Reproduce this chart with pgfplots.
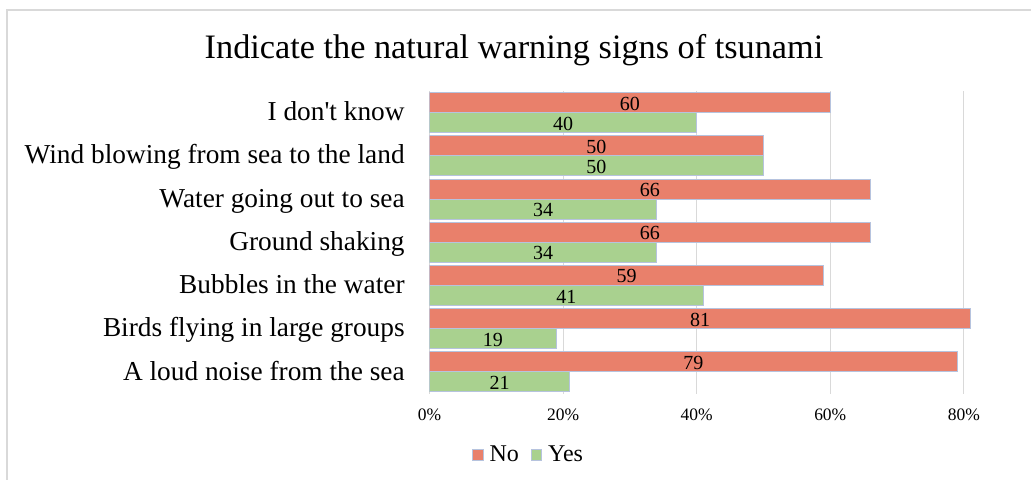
\documentclass[border=0pt]{standalone}
\usepackage{pgfplots}
\pgfplotsset{compat=1.18}
\usepackage{pgfplotstable}
\usepackage{fontspec}
\setmainfont{Liberation Serif}

\definecolor{noRed}{RGB}{233,128,107}
\definecolor{yesGreen}{RGB}{169,209,143}
\definecolor{barEdge}{RGB}{182,195,222}
\definecolor{gridGray}{RGB}{217,217,217}

% share of answers (%) per warning sign, bottom row first
\pgfplotstableread{
y no yes
0 79 21
1 81 19
2 59 41
3 66 34
4 66 34
5 50 50
6 60 40
}\signs

\begin{document}
\begin{tikzpicture}
\useasboundingbox (0,0) rectangle (773.25pt,359.25pt);
\clip (0,0) rectangle (773.25pt,359.25pt);
% chart area frame
\draw[gridGray, line width=1.1pt] (5.4pt,-30pt) -- (5.4pt,351.8pt) -- (820pt,351.8pt);
% title
\node[font=\fontsize{25.7}{30}\selectfont, anchor=base, inner sep=0pt]
  at (385.5pt,315.5pt) {Indicate the natural warning signs of tsunami};

\begin{axis}[
  at={(322.1pt,64.1pt)}, anchor=south west,
  scale only axis, width=501pt, height=226.9pt,
  xmin=0, xmax=100, ymin=-0.5, ymax=6.5,
  axis line style={draw=none},
  tick style={draw=none},
  xmajorgrids, major grid style={gridGray, line width=0.8pt},
  xtick={0,20,40,60,80},
  xticklabels={0\%,20\%,40\%,60\%,80\%},
  xticklabel style={font=\fontsize{13.1}{15}\selectfont, anchor=base, inner sep=0pt, yshift=-19.9pt},
  ytick={0,...,6},
  yticklabels={A loud noise from the sea, Birds flying in large groups, Bubbles in the water,
    Ground shaking, Water going out to sea, Wind blowing from sea to the land,
    I don\textquotesingle t know},
  yticklabel style={font=\fontsize{20.5}{24}\selectfont, anchor=base east, inner sep=0pt,
    xshift=-18.4pt, yshift=-6.1pt},
  legend style={at={(0.149,-0.2033)}, anchor=center, draw=none, fill=none,
    legend columns=2, font=\fontsize{18}{21}\selectfont,
    /tikz/every odd column/.append style={column sep=2.5pt},
    /tikz/every even column/.append style={column sep=7pt}},
  legend image code/.code={\draw[#1, line width=0.6pt] (0pt,-3.9pt) rectangle (7.8pt,3.9pt);},
]
\addplot[xbar, bar width=15pt, bar shift=7.5pt, fill=noRed, draw=barEdge, line width=0.7pt]
  table[x=no, y=y] {\signs};
\addplot[xbar, bar width=15pt, bar shift=-7.5pt, fill=yesGreen, draw=barEdge, line width=0.7pt]
  table[x=yes, y=y] {\signs};
\legend{No, Yes}
% value labels centred in each bar
\addplot[sharp plot, draw=none, mark=none, forget plot,
  point meta=explicit symbolic, nodes near coords,
  every node near coord/.style={anchor=center, yshift=6.8pt, font=\fontsize{15}{18}\selectfont, text=black}]
  table[x expr=\thisrow{no}/2, y=y, meta=no] {\signs};
\addplot[sharp plot, draw=none, mark=none, forget plot,
  point meta=explicit symbolic, nodes near coords,
  every node near coord/.style={anchor=center, yshift=-8.2pt, font=\fontsize{15}{18}\selectfont, text=black}]
  table[x expr=\thisrow{yes}/2, y=y, meta=yes] {\signs};
\end{axis}
\end{tikzpicture}
\end{document}
